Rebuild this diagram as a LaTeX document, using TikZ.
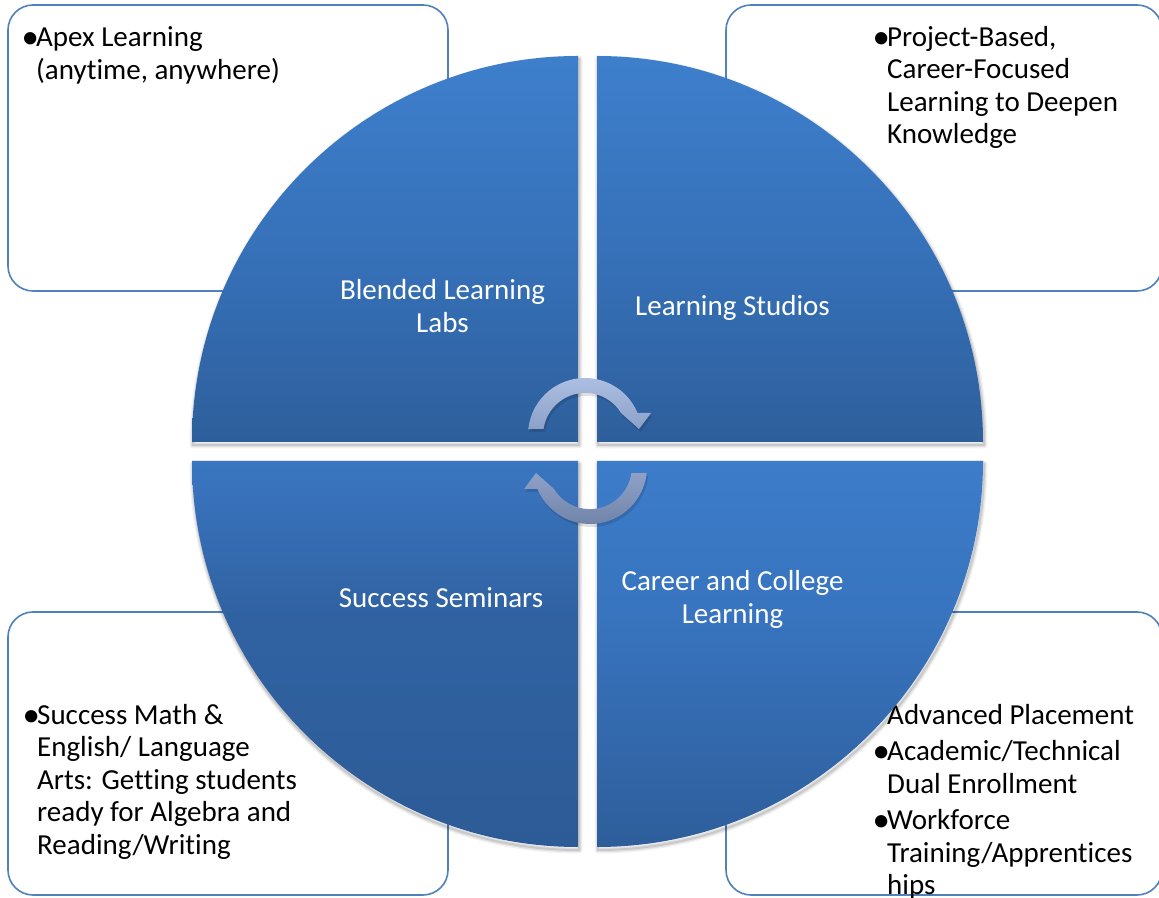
\documentclass[tikz,border=0pt]{standalone}
\usepackage{fontspec}
\setmainfont{Carlito}[Ligatures={NoCommon}]
\definecolor{boxblue}{HTML}{4F81BD}
\definecolor{tlight}{HTML}{3E7FCC}
\definecolor{tmid}{HTML}{3671B9}
\definecolor{tdark}{HTML}{2E5F9C}
\definecolor{brlight}{HTML}{3C7CC9}
\definecolor{brmid}{HTML}{3874BF}
\definecolor{brdark}{HTML}{2E5E9B}
\definecolor{bllight}{HTML}{3A76C1}
\definecolor{blmid}{HTML}{3062A2}
\definecolor{bldark}{HTML}{2D5B96}
\definecolor{uatop}{HTML}{AEC1E3}
\definecolor{uabot}{HTML}{8CA1C9}
\definecolor{latop}{HTML}{8FA1C6}
\definecolor{labot}{HTML}{6F82A8}
\pgfdeclareverticalshading{qtl}{100bp}{color(0bp)=(tdark); color(25bp)=(tdark); color(50bp)=(tmid); color(75bp)=(tlight); color(100bp)=(tlight)}
\pgfdeclareverticalshading{qtr}{100bp}{color(0bp)=(tdark); color(25bp)=(tdark); color(50bp)=(tmid); color(75bp)=(tlight); color(100bp)=(tlight)}
\pgfdeclareverticalshading{qbr}{100bp}{color(0bp)=(brdark); color(25bp)=(brdark); color(55bp)=(brmid); color(75bp)=(brlight); color(100bp)=(brlight)}
\pgfdeclareverticalshading{qbl}{100bp}{color(0bp)=(bldark); color(25bp)=(bldark); color(55bp)=(blmid); color(75bp)=(bllight); color(100bp)=(bllight)}
\newcommand\bulmark{\makebox[10pt][c]{\raisebox{-1.8pt}{\scalebox{1.2}{•}}}\hspace*{1pt}}
\tikzset{
  infobox/.style={draw=boxblue, line width=1.6pt, fill=white, rounded corners=25pt},
  boxtext/.style={anchor=base west, inner sep=0pt, font=\fontsize{29}{32.5}\selectfont, text=black},
  qlabel/.style={anchor=base, inner sep=0pt, font=\fontsize{29}{33}\selectfont, text=white},
}
\begin{document}
\begin{tikzpicture}[x=1pt,y=1pt]
\clip (0,0) rectangle (1159,897);
\fill[white] (0,0) rectangle (1159,897);
% boxes
\draw[infobox] (8,606) rectangle (448,892);
\draw[infobox] (726,606) rectangle (1162,892);
\draw[infobox] (8,2) rectangle (448,285);
\draw[infobox] (726,2) rectangle (1162,285);
% box texts
\node[boxtext] (tltext) at (25,850) {\begin{tabular}[t]{@{}l@{}l@{}}\bulmark&Apex Learning\\&(anytime, anywhere)\end{tabular}};
\node[boxtext] (trtext) at (876,850.5) {\begin{tabular}[t]{@{}l@{}l@{}}\bulmark&Project-Based,\\&Career-Focused\\&Learning to Deepen\\&Knowledge\end{tabular}};
\node[boxtext] (bltext) at (26,172.5) {\begin{tabular}[t]{@{}l@{}l@{}}\bulmark&Success Math \&\\&English/ Language\\&Arts: Getting students\\&ready for Algebra and\\&Reading/Writing\end{tabular}};
\node[boxtext] (brtext) at (876,172.5) {\begin{tabular}[t]{@{}l@{}l@{}}&Advanced Placement\\[4pt]\bulmark&Academic/Technical\\&Dual Enrollment\\[4pt]\bulmark&Workforce\\&Training/Apprentices\\&hips\end{tabular}};
% quadrants with soft shadows
\foreach \cx/\cy/\a/\sh in {578/455/90/qtl, 597/455/0/qtr, 578/436/180/qbl, 597/436/270/qbr} {
  \foreach \w/\o in {7/0.05, 4.5/0.07, 2/0.10}
    \draw[line width=\w pt, black, draw opacity=\o, shift={(1,-3)}, line join=round]
      (\cx,\cy) -- ++(\a:386) arc[start angle=\a, delta angle=90, radius=386] -- cycle;
  \shade[shading=\sh] (\cx,\cy) -- ++(\a:386) arc[start angle=\a, delta angle=90, radius=386] -- cycle;
}
% quadrant labels
\node[qlabel] (blended) at (442.5,597.5) {\begin{tabular}[t]{@{}c@{}}Blended Learning\\Labs\end{tabular}};
\node[qlabel] (studios) at (732.5,581.5) {Learning Studios};
\node[qlabel] (seminars) at (441,289.5) {Success Seminars};
\node[qlabel] (career) at (732.5,306.5) {\begin{tabular}[t]{@{}c@{}}Career and College\\Learning\end{tabular}};
% circular arrows: shadows
\fill[black, opacity=0.12, shift={(1.5,-3)}] ([shift={(174:57)}]585,462) arc[start angle=174, end angle=22.7, radius=57] -- (651,484) -- (639,468) -- (621,484) arc[start angle=31.4, end angle=171.8, radius=42] -- cycle;
\fill[black, opacity=0.12, shift={(1.5,-3)}] ([shift={(354:57)}]590,430) arc[start angle=354, end angle=202.7, radius=57] -- (524,408) -- (536,424) -- (554,408) arc[start angle=211.4, end angle=351.8, radius=42] -- cycle;
% circular arrows
\shade[top color=uatop, bottom color=uabot] ([shift={(174:57)}]585,462) arc[start angle=174, end angle=22.7, radius=57] -- (651,484) -- (639,468) -- (621,484) arc[start angle=31.4, end angle=171.8, radius=42] -- cycle;
\shade[top color=latop, bottom color=labot] ([shift={(354:57)}]590,430) arc[start angle=354, end angle=202.7, radius=57] -- (524,408) -- (536,424) -- (554,408) arc[start angle=211.4, end angle=351.8, radius=42] -- cycle;
\end{tikzpicture}
\end{document}
